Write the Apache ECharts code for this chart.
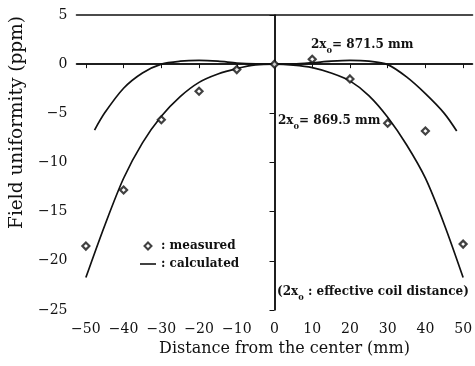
<!DOCTYPE html>
<html>
    <head>
        <meta charset='utf-8'>
        <script src="https://cdn.jsdelivr.net/npm/echarts@6/dist/echarts.min.js"></script>
    </head>
    <body style="margin:0">
        <style>
            html, body, #main {
                width: 475px;
                height: 366px;
                background: #fff;
            }
        </style>
        <div id="main"></div>
        <script>
            // x tick positions (mm)
            var xTicks = [-50, -40, -30, -20, -10, 0, 10, 20, 30, 40, 50];

            // measured points
            var measuredX = [-50, -40, -30, -20, -10, 0, 10, 20, 30, 40, 50];
            var measuredY = [-18.5, -12.8, -5.65, -2.75, -0.55, 0, 0.5, -1.5, -6.0, -6.8, -18.3];

            // calculated, 2x0 = 869.5 mm
            var innerX = [-50, -45, -40, -35, -30, -25, -20, -15, -10, -5, 0, 5, 10, 15, 20, 25, 30, 35, 40, 45, 50];
            var innerY = [-21.7, -16.4, -11.6, -8.0, -5.3, -3.3, -1.85, -1.0, -0.45, -0.08, 0, -0.1, -0.35, -0.9, -1.7, -3.2, -5.4, -8.2, -11.6, -16.3, -21.7];

            // calculated, 2x0 = 871.5 mm
            var outerX = [-47.7, -45, -40, -35, -30, -25, -20, -15, -10, -5, 0, 5, 10, 15, 20, 25, 30, 35, 40, 45, 48.3];
            var outerY = [-6.7, -4.95, -2.45, -0.9, 0, 0.3, 0.38, 0.3, 0.12, 0.02, 0, 0.03, 0.15, 0.3, 0.38, 0.3, -0.05, -1.3, -3.0, -5.0, -6.8];

            function pairs(xs, ys) {
                return xs.map(function (x, i) { return [x, ys[i]]; });
            }
            function minus(v) {
                return String(v).replace('-', '\u2212');
            }

            var serif = 'DejaVu Serif';
            var ink = '#111';

            // rich styles for "2x0" type labels
            function richFor(size) {
                return {
                    m: { fontFamily: serif, fontSize: size, fontWeight: 'bold', fill: ink, lineHeight: 16, verticalAlign: 'top' },
                    s: { fontFamily: serif, fontSize: 8, fontWeight: 'bold', fill: ink, lineHeight: 16, verticalAlign: 'bottom' }
                };
            }

            var chart = echarts.init(document.getElementById('main'));

            chart.setOption({
                animation: false,
                backgroundColor: '#fff',
                grid: { left: 75, right: 0, top: 15, bottom: 56 },
                legend: {
                    left: 135,
                    top: 235,
                    orient: 'vertical',
                    itemWidth: 16,
                    itemHeight: 7,
                    itemGap: 6,
                    data: [
                        { name: 'measured', icon: 'path://M3,0 L6,3 L3,6 L0,3 Z' },
                        { name: 'calculated', icon: 'path://M0,0 L16,0 L16,1.6 L0,1.6 Z' }
                    ],
                    formatter: function (name) { return ': ' + name; },
                    textStyle: { fontFamily: serif, fontSize: 12, fontWeight: 'bold', color: ink }
                },
                xAxis: [{
                    type: 'value',
                    min: -52.5,
                    max: 52.5,
                    name: 'Distance from the center (mm)',
                    nameLocation: 'middle',
                    nameGap: 30,
                    nameTextStyle: { fontFamily: serif, fontSize: 16, color: ink, padding: [0, 0, 0, 20] },
                    splitLine: { show: false },
                    axisLine: { lineStyle: { color: ink, width: 1.5 } },
                    axisTick: { customValues: xTicks, length: 4, lineStyle: { color: ink } },
                    axisLabel: {
                        customValues: xTicks,
                        margin: 12,
                        fontFamily: serif, fontSize: 14, color: ink,
                        formatter: minus
                    }
                }, {
                    type: 'value',
                    position: 'top',
                    min: -52.5,
                    max: 52.5,
                    splitLine: { show: false },
                    axisLine: { lineStyle: { color: ink, width: 1.5 } },
                    axisTick: { show: false },
                    axisLabel: { show: false }
                }],
                yAxis: {
                    type: 'value',
                    min: -25,
                    max: 5,
                    interval: 5,
                    name: 'Field uniformity (ppm)',
                    nameLocation: 'middle',
                    nameGap: 49,
                    nameTextStyle: { fontFamily: serif, fontSize: 18.5, color: ink, padding: [0, 0, 0, 80] },
                    splitLine: { show: false },
                    axisLine: { show: true, lineStyle: { color: ink, width: 1.5 } },
                    axisTick: { show: true, length: 5, lineStyle: { color: ink } },
                    axisLabel: {
                        margin: 9,
                        fontFamily: serif, fontSize: 14, color: ink,
                        formatter: minus
                    }
                },
                graphic: [{
                    type: 'text',
                    left: 311,
                    top: 39,
                    style: { text: '{m|2x}{s|0}{m|= 871.5 mm}', rich: richFor(12) }
                }, {
                    type: 'text',
                    left: 278,
                    top: 115,
                    style: { text: '{m|2x}{s|0}{m|= 869.5 mm}', rich: richFor(12) }
                }, {
                    type: 'text',
                    left: 277,
                    top: 286,
                    style: { text: '{m|(2x}{s|0}{m| : effective coil distance)}', rich: richFor(12) }
                }],
                series: [{
                    name: 'measured',
                    type: 'scatter',
                    symbol: 'diamond',
                    symbolSize: 7,
                    itemStyle: { color: '#fff', borderColor: ink, borderWidth: 2.2 },
                    data: pairs(measuredX, measuredY),
                    z: 5
                }, {
                    name: 'calculated',
                    type: 'line',
                    symbol: 'none',
                    smooth: 0.3,
                    lineStyle: { color: ink, width: 1.7 },
                    itemStyle: { color: ink },
                    data: pairs(innerX, innerY),
                    markLine: {
                        silent: true,
                        symbol: 'none',
                        label: { show: false },
                        lineStyle: { color: ink, width: 1.5, type: 'solid' },
                        data: [{ xAxis: 0 }, { yAxis: 0 }]
                    }
                }, {
                    name: 'calculated',
                    type: 'line',
                    symbol: 'none',
                    smooth: 0.3,
                    lineStyle: { color: ink, width: 1.7 },
                    itemStyle: { color: ink },
                    data: pairs(outerX, outerY)
                }]
            });
        </script>
    </body>
</html>
